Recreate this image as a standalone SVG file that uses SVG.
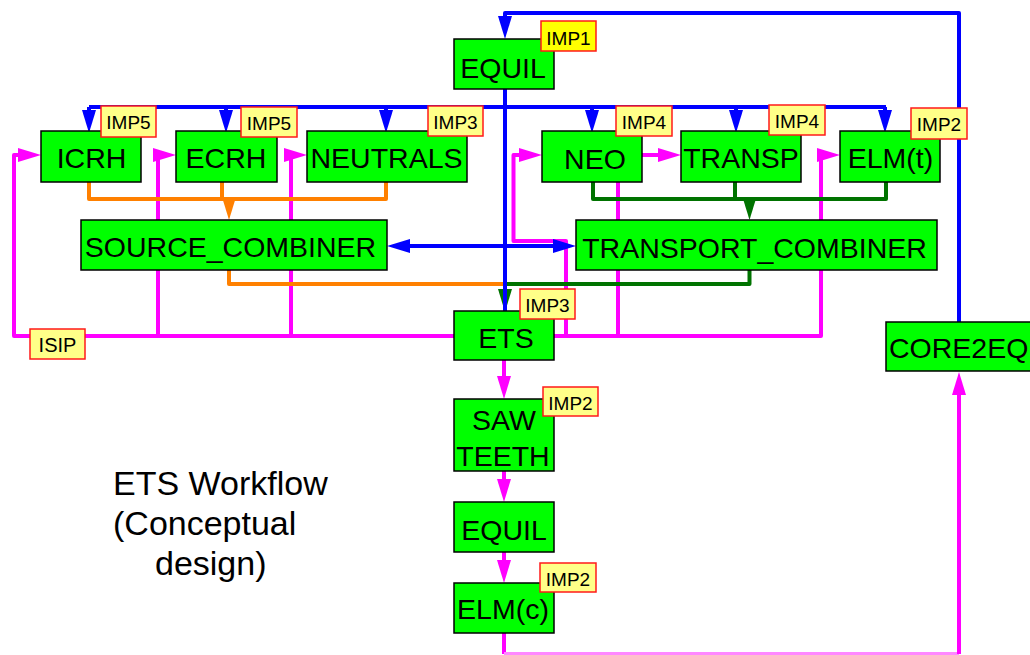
<svg xmlns="http://www.w3.org/2000/svg" width="1030" height="655" viewBox="0 0 1030 655">
<style>
.n rect{fill:#00ff00;stroke:#000;stroke-width:1.5}
.n text{font-family:"Liberation Sans",Arial,sans-serif;font-size:28.5px;fill:#000;text-anchor:middle}
.t rect{fill:#ffff88;stroke:#ff1a1a;stroke-width:1.5}
.t text{font-family:"Liberation Sans",Arial,sans-serif;font-size:19px;fill:#000;text-anchor:middle}
.c path{fill:none;stroke-width:4;stroke-linejoin:round}
.b{stroke:#0000ff}
.m{stroke:#ff00ff}
.o{stroke:#ff8000}
.g{stroke:#007300}
.cap{font-family:"Liberation Sans",Arial,sans-serif;font-size:34px;fill:#000}
</style>
<defs>
<marker id="ab" viewBox="0 0 23 14" refX="13" refY="7" markerWidth="23" markerHeight="14" markerUnits="userSpaceOnUse" orient="auto-start-reverse"><path d="M0,0 L23,7 L0,14 z" fill="#0000ff"/></marker>
<marker id="am" viewBox="0 0 23 14" refX="13" refY="7" markerWidth="23" markerHeight="14" markerUnits="userSpaceOnUse" orient="auto"><path d="M0,0 L23,7 L0,14 z" fill="#ff00ff"/></marker>
<marker id="ao" viewBox="0 0 23 14" refX="13" refY="7" markerWidth="23" markerHeight="14" markerUnits="userSpaceOnUse" orient="auto"><path d="M0,0 L23,7 L0,14 z" fill="#ff8000"/></marker>
<marker id="ag" viewBox="0 0 23 14" refX="13" refY="7" markerWidth="23" markerHeight="14" markerUnits="userSpaceOnUse" orient="auto"><path d="M0,0 L23,7 L0,14 z" fill="#007300"/></marker>
</defs>
<g id="connectors" class="c">
<path class="m" d="M454,336 H14 V155 H31" marker-end="url(#am)"/>
<path class="m" d="M158,336 V155 H166" marker-end="url(#am)"/>
<path class="m" d="M291,336 V155 H297" marker-end="url(#am)"/>
<path class="m" d="M554,336 H821 V155 H830" marker-end="url(#am)"/>
<path class="m" d="M618,336 V182"/>
<path class="m" d="M566,336 V241 H513.5 V155 H532" marker-end="url(#am)"/>
<path class="m" d="M642,155 H671" marker-end="url(#am)"/>
<path class="m" d="M504,360 V389" marker-end="url(#am)"/>
<path class="m" d="M504,471 V492" marker-end="url(#am)"/>
<path class="m" d="M504,552 V573" marker-end="url(#am)"/>
<path class="m" d="M504,633 V654"/>
<path d="M504,654 H959" stroke="#ff88ff" stroke-width="1.5"/>
<path class="m" d="M959,654 V382" marker-end="url(#am)"/>
<path class="o" d="M89,182 V199 H386 V182"/>
<path class="o" d="M222,182 V199"/>
<path class="o" d="M229,199 V210" marker-end="url(#ao)"/>
<path class="o" d="M229,270 V284 H505"/>
<path class="g" d="M593,182 V199 H886 V182"/>
<path class="g" d="M735,182 V199"/>
<path class="g" d="M749.5,199 V210" marker-end="url(#ag)"/>
<path class="g" d="M749.5,270 V284 H505 V302" marker-end="url(#ag)"/>
<path class="b" d="M959,322 V13 H505 V29" marker-end="url(#ab)"/>
<path class="b" d="M505,89 V312"/>
<path class="b" d="M89,107 H886"/>
<path class="b" d="M89,107 V123" marker-end="url(#ab)"/>
<path class="b" d="M226,107 V123" marker-end="url(#ab)"/>
<path class="b" d="M386,107 V123" marker-end="url(#ab)"/>
<path class="b" d="M592,107 V123" marker-end="url(#ab)"/>
<path class="b" d="M736,107 V123" marker-end="url(#ab)"/>
<path class="b" d="M885,107 V123" marker-end="url(#ab)"/>
<path class="b" d="M397,246 H566" marker-start="url(#ab)" marker-end="url(#ab)"/>
</g>
<g id="equil-top" class="n"><rect x="454" y="39" width="100" height="50"/><text x="503" y="78">EQUIL</text></g>
<g id="icrh" class="n"><rect x="41" y="131" width="100" height="51"/><text x="91.5" y="168">ICRH</text></g>
<g id="ecrh" class="n"><rect x="176" y="131" width="101" height="51"/><text x="226" y="168">ECRH</text></g>
<g id="neutrals" class="n"><rect x="307" y="131" width="160" height="51"/><text x="386.5" y="168">NEUTRALS</text></g>
<g id="neo" class="n"><rect x="542" y="131" width="100" height="51"/><text x="595" y="169">NEO</text></g>
<g id="transp" class="n"><rect x="681" y="131" width="120" height="51"/><text x="741" y="168">TRANSP</text></g>
<g id="elmt" class="n"><rect x="840" y="131" width="100" height="51"/><text x="890.5" y="168">ELM(t)</text></g>
<g id="source-combiner" class="n"><rect x="81" y="220" width="306" height="50"/><text x="230.5" y="257">SOURCE_COMBINER</text></g>
<g id="transport-combiner" class="n"><rect x="576" y="220" width="361" height="50"/><text x="754.5" y="258">TRANSPORT_COMBINER</text></g>
<g id="ets" class="n"><rect x="454" y="311" width="100" height="49"/><text x="506" y="348">ETS</text></g>
<g id="core2eq" class="n"><rect x="886" y="322" width="150" height="49"/><text x="889" y="358" style="text-anchor:start">CORE2EQ</text></g>
<g id="sawteeth" class="n"><rect x="454" y="399" width="100" height="72"/><text x="504" y="430">SAW</text><text x="503" y="466">TEETH</text></g>
<g id="equil-bottom" class="n"><rect x="454" y="502" width="100" height="50"/><text x="504" y="540">EQUIL</text></g>
<g id="elmc" class="n"><rect x="454" y="583" width="100" height="50"/><text x="503" y="619">ELM(c)</text></g>
<g id="tag-imp1" class="t"><rect x="541" y="21" width="55" height="30" style="fill:#ffff00"/><text x="568.5" y="45">IMP1</text></g>
<g id="tag-imp5a" class="t"><rect x="101" y="106" width="55" height="31"/><text x="128.5" y="129">IMP5</text></g>
<g id="tag-imp5b" class="t"><rect x="241" y="107" width="56" height="30"/><text x="269" y="130">IMP5</text></g>
<g id="tag-imp3a" class="t"><rect x="428" y="106" width="55" height="30"/><text x="455.5" y="129">IMP3</text></g>
<g id="tag-imp4a" class="t"><rect x="616" y="106" width="56" height="30"/><text x="644" y="129">IMP4</text></g>
<g id="tag-imp4b" class="t"><rect x="769" y="105" width="56" height="30"/><text x="797" y="128">IMP4</text></g>
<g id="tag-imp2a" class="t"><rect x="911" y="108" width="56" height="31"/><text x="939" y="131">IMP2</text></g>
<g id="tag-imp3b" class="t"><rect x="520" y="289" width="55" height="30"/><text x="547.5" y="312">IMP3</text></g>
<g id="tag-isip" class="t"><rect x="30" y="329" width="55" height="30"/><text x="57.5" y="352" style="font-size:20px">ISIP</text></g>
<g id="tag-imp2b" class="t"><rect x="543" y="387" width="55" height="29"/><text x="570.5" y="410">IMP2</text></g>
<g id="tag-imp2c" class="t"><rect x="540" y="563" width="56" height="29"/><text x="568" y="586">IMP2</text></g>
<g id="caption">
<text class="cap" x="113" y="495">ETS Workflow</text>
<text class="cap" x="113" y="535">(Conceptual</text>
<text class="cap" x="155" y="575">design)</text>
</g>
</svg>
